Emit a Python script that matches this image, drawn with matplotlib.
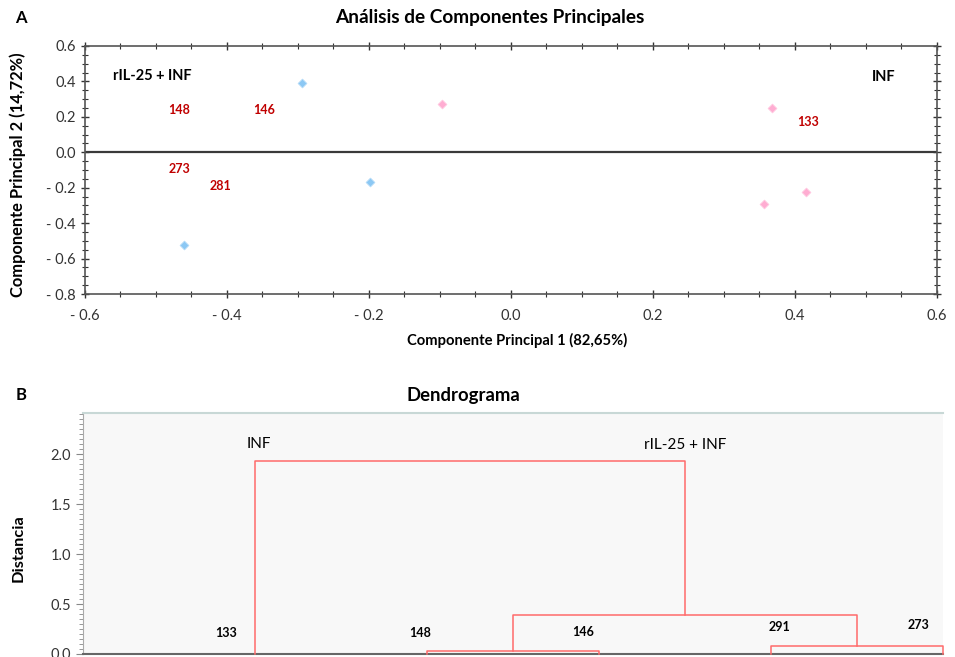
import matplotlib
matplotlib.use("Agg")
import matplotlib.pyplot as plt
from matplotlib.ticker import MultipleLocator, FuncFormatter

plt.rcParams['font.family'] = ['Lato', 'DejaVu Sans']

# PCA scores
pc1_ril25 = [-0.295, -0.198, -0.461]
pc2_ril25 = [0.392, -0.166, -0.522]
pc1_inf = [-0.097, 0.367, 0.415, 0.357]
pc2_inf = [0.275, 0.252, -0.224, -0.290]

# sample labels in panel A
lab_a_text = ['148', '146', '273', '281', '133']
lab_a_x = [-0.468, -0.348, -0.467, -0.409, 0.419]
lab_a_y = [0.237, 0.236, -0.094, -0.190, 0.171]

# dendrogram: leaf order and merge heights
leaves = ['133', '148', '146', '291', '273']
h_148_146 = 0.03
h_291_273 = 0.08
h_mid = 0.39
h_root = 1.93

RED = '#c00000'

W, H = 955, 657


def minus_fmt(v, pos):
    if abs(v) < 1e-9:
        return '0.0'
    if v < 0:
        return '- %.1f' % abs(v)
    return '%.1f' % v


def fit(txt, target_px, vertical=False):
    # scale a text so its drawn length matches the reference
    r = fig.canvas.get_renderer()
    bb = txt.get_window_extent(r)
    cur = bb.height if vertical else bb.width
    txt.set_fontsize(txt.get_fontsize() * target_px / cur)


fig = plt.figure(figsize=(9.55, 6.57), dpi=100)

# ---------------- Panel A ----------------
ax = fig.add_axes([0.0890, 0.5525, 0.8921, 0.3775])
ax.scatter(pc1_ril25, pc2_ril25, marker='D', s=20, color='#8cc8f4', edgecolors='#b5dbf7',
           linewidths=0.6, zorder=3)
ax.scatter(pc1_inf, pc2_inf, marker='D', s=20, color='#ffadd2', edgecolors='#ffc8e0',
           linewidths=0.6, zorder=3)
ax.axhline(0, color='#3a3a3a', lw=1.6, zorder=2)
for t, x, y in zip(lab_a_text, lab_a_x, lab_a_y):
    ax.text(x, y, t, color=RED, fontsize=9, fontweight='bold', ha='center', va='center')
ax.text(-0.505, 0.43, 'rIL-25 + INF', fontsize=10.5, fontweight='bold', ha='center', va='center')
ax.text(0.525, 0.425, 'INF', fontsize=10.5, fontweight='bold', ha='center', va='center')

ax.set_xlim(-0.6, 0.6)
ax.set_ylim(-0.8, 0.6)
ax.xaxis.set_major_locator(MultipleLocator(0.2))
ax.xaxis.set_minor_locator(MultipleLocator(0.05))
ax.yaxis.set_major_locator(MultipleLocator(0.2))
ax.yaxis.set_minor_locator(MultipleLocator(0.05))
ax.xaxis.set_major_formatter(FuncFormatter(minus_fmt))
ax.yaxis.set_major_formatter(FuncFormatter(minus_fmt))
ax.tick_params(which='both', direction='inout', top=True, right=True, colors='#333333',
               labelsize=10.5, labelcolor='#333333')
ax.tick_params(which='major', length=6, width=1)
ax.tick_params(which='minor', length=4, width=0.8)
ax.tick_params(axis='x', pad=8)
for s in ax.spines.values():
    s.set_color('#555555')
    s.set_linewidth(1.2)

t_title_a = fig.text(490 / W, 1 - 18 / H, 'Análisis de Componentes Principales', fontsize=13,
                     fontweight='bold', ha='center', va='center')
t_xlab = fig.text(517 / W, 1 - 340 / H, 'Componente Principal 1 (82,65%)', fontsize=10.5,
                  fontweight='bold', ha='center', va='center')
t_ylab = fig.text(17.5 / W, 1 - 174.5 / H, 'Componente Principal 2 (14,72%)', fontsize=12,
                  fontweight='bold', ha='center', va='center', rotation=90)
fig.text(0.016, 0.972, 'A', fontsize=12, fontweight='bold', ha='left', va='center')

# ---------------- Panel B ----------------
bx = fig.add_axes([0.0869, 0.00457, 0.9005, 0.3668])
bx.set_facecolor('#f8f8f8')
pos = {name: i + 1 for i, name in enumerate(leaves)}
lc = '#ff6b6b'
c1 = (pos['148'] + pos['146']) / 2
c2 = (pos['291'] + pos['273']) / 2
c3 = (c1 + c2) / 2
segs = [
    ([pos['148'], pos['148'], pos['146'], pos['146']], [0, h_148_146, h_148_146, 0]),
    ([pos['291'], pos['291'], pos['273'], pos['273']], [0, h_291_273, h_291_273, 0]),
    ([c1, c1, c2, c2], [h_148_146, h_mid, h_mid, h_291_273]),
    ([pos['133'], pos['133'], c3, c3], [0, h_root, h_root, h_mid]),
]
for xs, ys in segs:
    bx.plot(xs, ys, color=lc, lw=1.1, clip_on=False, zorder=3)

leaf_lab_dx = [-0.17, -0.04, -0.09, 0.05, -0.14]
leaf_lab_y = [0.21, 0.21, 0.22, 0.27, 0.29]
for name, dx, y in zip(leaves, leaf_lab_dx, leaf_lab_y):
    bx.text(pos[name] + dx, y, name, fontsize=9, fontweight='bold', ha='center', va='center')
bx.text(pos['133'] + 0.02, 2.1, 'INF', fontsize=11, ha='center', va='center')
bx.text(c3, 2.09, 'rIL-25 + INF', fontsize=11, ha='center', va='center')

bx.set_xlim(0, 5)
bx.set_ylim(0, 2.41)
bx.set_xticks([])
bx.yaxis.set_major_locator(MultipleLocator(0.5))
bx.yaxis.set_minor_locator(MultipleLocator(0.05))
bx.yaxis.set_major_formatter(FuncFormatter(lambda v, p: '%.1f' % v))
bx.tick_params(axis='y', which='both', direction='out', colors='#888888', labelcolor='#333333',
               labelsize=10.5)
bx.tick_params(axis='y', which='major', length=5)
bx.tick_params(axis='y', which='minor', length=3)
bx.spines['right'].set_visible(False)
bx.spines['top'].set_color('#c8d8d6')
bx.spines['top'].set_linewidth(1.5)
bx.spines['left'].set_color('#aaaaaa')
bx.spines['bottom'].set_color('#666666')
bx.spines['bottom'].set_linewidth(1.5)

t_dist = fig.text(18.5 / W, 1 - 548.5 / H, 'Distancia', fontsize=12, fontweight='bold',
                  ha='center', va='center', rotation=90)
t_title_b = fig.text(463 / W, 1 - 395 / H, 'Dendrograma', fontsize=13, fontweight='bold',
                     ha='center', va='center')
fig.text(0.016, 0.399, 'B', fontsize=12, fontweight='bold', ha='left', va='center')

# match the lengths of the main texts to the reference
fig.canvas.draw()
fit(t_title_a, 309)
fit(t_xlab, 219)
fit(t_ylab, 245, vertical=True)
fit(t_title_b, 113)
fit(t_dist, 67, vertical=True)

fig.savefig('out.png', dpi=100)
